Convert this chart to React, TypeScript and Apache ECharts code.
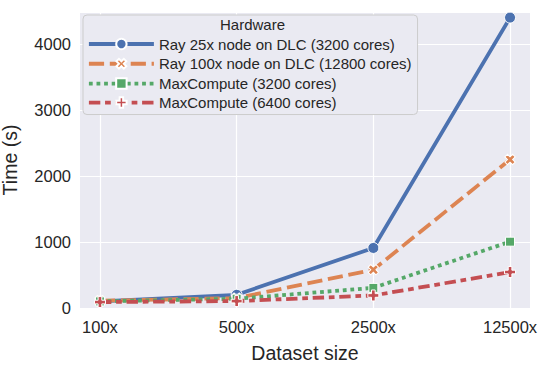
import React, { useEffect, useRef } from "react";
import * as echarts from "echarts";

const categories = ["100x", "500x", "2500x", "12500x"];
const seriesNames = [
  "Ray 25x node on DLC (3200 cores)",
  "Ray 100x node on DLC (12800 cores)",
  "MaxCompute (3200 cores)",
  "MaxCompute (6400 cores)",
];
const ray25 = [100, 200, 910, 4400];
const ray100 = [110, 150, 580, 2250];
const mc3200 = [100, 140, 305, 1005];
const mc6400 = [90, 105, 190, 545];
const yTicks = [0, 1000, 2000, 3000, 4000];

const FONT = "'Liberation Sans', Arial, sans-serif";
const TEXT = "#262626";
const PLUS = "path://M-1,-3L1,-3L1,-1L3,-1L3,1L1,1L1,3L-1,3L-1,1L-3,1L-3,-1L-1,-1Z";

export default function App() {
  const ref = useRef<HTMLDivElement>(null);
  useEffect(() => {
    if (!ref.current) return;
    const chart = echarts.init(ref.current, undefined, { renderer: "svg" });
    const toPairs = (arr: number[]) => arr.map((v, i) => [i, v]);
    const lw = 3.8;
    const mk = (
      name: string,
      arr: number[],
      color: string,
      type: any,
      symbol: string,
      size: number,
      rotate = 0
    ) => ({
      name,
      type: "line",
      data: toPairs(arr),
      symbol,
      symbolSize: size,
      symbolRotate: rotate,
      showSymbol: true,
      lineStyle: { color, width: lw, type, cap: "butt" },
      itemStyle: { color, borderColor: "#ffffff", borderWidth: 1 },
      emphasis: { disabled: true },
    });
    chart.setOption({
      animation: false,
      backgroundColor: "#ffffff",
      textStyle: { fontFamily: FONT, color: TEXT },
      grid: {
        left: 80,
        right: 18,
        top: 12,
        bottom: 58,
        show: true,
        backgroundColor: "#EAEAF2",
        borderWidth: 0,
        containLabel: false,
        outerBoundsMode: "none",
      },
      xAxis: {
        type: "value",
        min: -0.146,
        max: 3.146,
        name: "Dataset size",
        nameLocation: "middle",
        nameGap: 35,
        nameTextStyle: { fontSize: 19.5, color: TEXT, fontFamily: FONT },
        axisLine: { show: false },
        axisTick: { show: false, customValues: [0, 1, 2, 3] },
        axisLabel: {
          customValues: [0, 1, 2, 3],
          formatter: (v: number) => categories[Math.round(v)] ?? "",
          fontSize: 16.5,
          color: TEXT,
          fontFamily: FONT,
          margin: 10,
          hideOverlap: false,
        },
        splitLine: { show: true, lineStyle: { color: "#ffffff", width: 1.2 } },
      },
      yAxis: {
        type: "value",
        min: 0,
        max: 4485,
        interval: 1000,
        name: "Time (s)",
        nameLocation: "middle",
        nameGap: 60,
        nameTextStyle: { fontSize: 19.5, color: TEXT, fontFamily: FONT },
        axisLine: { show: false },
        axisTick: { show: false },
        axisLabel: {
          fontSize: 16.5,
          color: TEXT,
          fontFamily: FONT,
          margin: 9,
          formatter: (v: number) => (yTicks.includes(v) ? String(v) : ""),
        },
        splitLine: { show: true, lineStyle: { color: "#ffffff", width: 1.2 } },
      },
      legend: {
        left: 83,
        top: 15,
        orient: "vertical",
        data: seriesNames,
        itemWidth: 65,
        itemHeight: 13,
        itemGap: 3,
        padding: [21, 6, 4, 4],
        backgroundColor: "#EAEAF2",
        borderColor: "#CCCCCC",
        borderWidth: 1,
        borderRadius: 4,
        lineStyle: { width: 3.8 },
        textStyle: { fontSize: 15, lineHeight: 16, color: TEXT, fontFamily: FONT },
        selectedMode: false,
      },
      graphic: [
        {
          type: "text",
          left: 220,
          top: 17,
          z: 100,
          style: { text: "Hardware", fontSize: 15, fontFamily: FONT, fill: TEXT },
        },
      ],
      series: [
        mk(seriesNames[0], ray25, "#4C72B0", "solid", "circle", 11),
        mk(seriesNames[1], ray100, "#DD8452", [15.2, 5.7], PLUS, 11, 45),
        mk(seriesNames[2], mc3200, "#55A868", [3.8, 3.8], "rect", 9),
        mk(seriesNames[3], mc6400, "#C44E52", [11.4, 4.75, 5.7, 4.75], PLUS, 11),
      ],
    });
    return () => chart.dispose();
  }, []);
  return <div ref={ref} style={{ position: "fixed", left: 0, top: 0, width: 548, height: 366 }} />;
}
